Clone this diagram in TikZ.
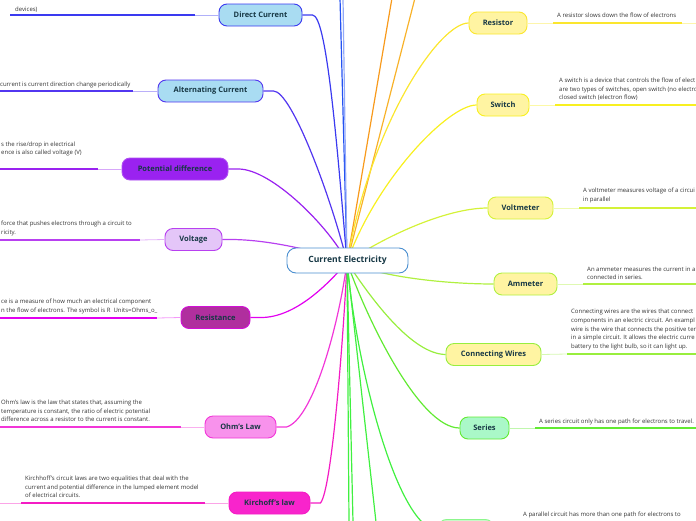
\documentclass[tikz,border=0pt]{standalone}
\usepackage{fontspec}
\setmainfont{Open Sans}
\usetikzlibrary{positioning}

\definecolor{cebord}{HTML}{4A8FD0}
\definecolor{labeltext}{HTML}{173845}
\definecolor{notetext}{HTML}{333333}
\definecolor{dcblue}{HTML}{3A3AF0}
\definecolor{acblue}{HTML}{5236F0}
\definecolor{lightblue}{HTML}{A9DCF2}
\definecolor{pdpurple}{HTML}{9A22F0}
\definecolor{vopurple}{HTML}{B840F0}
\definecolor{volav}{HTML}{E4C6F8}
\definecolor{remag}{HTML}{E200F0}
\definecolor{refill}{HTML}{B02F9E}
\definecolor{ohpink}{HTML}{F236D8}
\definecolor{ohfill}{HTML}{F892EC}
\definecolor{kipink}{HTML}{F41CC4}
\definecolor{kifill}{HTML}{F824CC}
\definecolor{rsyellow}{HTML}{FBE62E}
\definecolor{swyellow}{HTML}{F8F020}
\definecolor{paleyellow}{HTML}{FFF4A2}
\definecolor{vmlime}{HTML}{D4F238}
\definecolor{amlime}{HTML}{B0F040}
\definecolor{cwgreen}{HTML}{98EE3E}
\definecolor{segreen}{HTML}{62EA32}
\definecolor{mint}{HTML}{AAF8C8}
\definecolor{pagreen}{HTML}{40F040}
\definecolor{palegreen}{HTML}{C8FAC8}
\definecolor{topblue}{HTML}{2452F2}
\definecolor{orangeA}{HTML}{F89A1C}
\definecolor{orangeB}{HTML}{F8B22A}

\begin{document}
\begin{tikzpicture}[x=1pt,y=-1pt,
    topic/.style={draw,rounded corners=8pt,minimum height=22pt,inner sep=2pt,
        line width=0.9pt,text=labeltext,font=\fontsize{7.5}{9}\selectfont\bfseries},
    note/.style={anchor=south west,align=left,inner sep=0pt,text=notetext,
        font=\fontsize{6}{8.6}\selectfont},
    link/.style={line width=1.2pt},
    bar/.style={line width=1.6pt},
    stub/.style={line width=0.8pt}]
  \useasboundingbox (0,0) rectangle (696,520);
  \clip (0,0) rectangle (696,520);

  % hub behind the central topic
  \coordinate (hub) at (347,262);

  % topics on the left
  \node [topic,fill=lightblue,draw=dcblue,minimum width=83pt] (dc) at (260.5,15) {Direct Current};
  \node [topic,fill=lightblue,draw=acblue,minimum width=105pt] (ac) at (210.5,91) {Alternating Current};
  \node [topic,fill=pdpurple,draw=pdpurple!80!white,minimum width=106pt] (pd) at (175,169) {Potential difference};
  \node [topic,fill=volav,draw=vopurple,minimum width=57pt] (vo) at (193.5,239.5) {Voltage};
  \node [topic,fill=refill,draw=remag!70!refill,minimum width=69pt] (re) at (215.5,317.5) {Resistance};
  \node [topic,fill=ohfill,draw=ohpink,minimum width=71pt] (oh) at (240.5,427) {Ohm's Law};
  \node [topic,fill=kifill,draw=kipink,minimum width=81pt] (ki) at (269.5,503) {Kirchoff's law};

  % topics on the right
  \node [topic,fill=paleyellow,draw=rsyellow,minimum width=58pt] (rs) at (498,23) {Resistor};
  \node [topic,fill=paleyellow,draw=swyellow,minimum width=52pt] (sw) at (503,105) {Switch};
  \node [topic,fill=paleyellow,draw=vmlime,minimum width=65pt] (vm) at (520.5,208) {Voltmeter};
  \node [topic,fill=paleyellow,draw=amlime,minimum width=63pt] (am) at (525.5,284) {Ammeter};
  \node [topic,fill=paleyellow,draw=cwgreen,minimum width=95pt] (cw) at (493.5,354.5) {Connecting Wires};
  \node [topic,fill=mint,draw=segreen,minimum width=49pt] (se) at (484.5,428) {Series};
  \node [topic,fill=palegreen,draw=pagreen!60!white,minimum width=55pt] (pa) at (466,530.5) {};

  % ends of branches that run off the page
  \coordinate (upA) at (340,-2);
  \coordinate (upB) at (343,-2);
  \coordinate (upC) at (392,-2);
  \coordinate (upD) at (415,-2);
  \coordinate (downA) at (349,522);
  \coordinate (downB) at (353,522);
  \coordinate (downC) at (376,522);

  % connectors
  \draw [link,dcblue] (dc.east) -- ++(10,0) .. controls (326,15) and (336,130) .. (hub);
  \draw [link,acblue] (ac.east) -- ++(10,0) .. controls (292,91) and (332,200) .. (hub);
  \draw [link,pdpurple] (pd.east) -- ++(10,0) .. controls (272,169) and (330,228) .. (hub);
  \draw [link,vopurple] (vo.east) -- ++(10,0) .. controls (272,240) and (320,252) .. (hub);
  \draw [link,remag] (re.east) -- ++(10,0) .. controls (296,318) and (330,282) .. (hub);
  \draw [link,ohpink] (oh.east) -- ++(10,0) .. controls (312,420) and (338,330) .. (hub);
  \draw [link,kipink] (ki.east) -- ++(10,0) .. controls (332,490) and (344,330) .. (hub);
  \draw [link,topblue] (hub) -- (upA);
  \draw [link,topblue!50!white] (hub) -- (upB);
  \draw [link,orangeA] (hub) -- (upC);
  \draw [link,orangeB] (hub) -- (upD);
  \draw [link,rsyellow] (hub) .. controls (372,120) and (440,23) .. (rs.west);
  \draw [link,swyellow] (hub) .. controls (376,180) and (448,105) .. (sw.west);
  \draw [link,vmlime] (hub) .. controls (392,232) and (450,208) .. (vm.west);
  \draw [link,amlime] (hub) .. controls (384,278) and (450,284) .. (am.west);
  \draw [link,cwgreen] (hub) .. controls (372,300) and (412,354) .. (cw.west);
  \draw [link,segreen] (hub) .. controls (368,322) and (420,428) .. (se.west);
  \draw [link,pagreen] (hub) .. controls (358,380) and (400,530) .. (pa.west);
  \draw [link,pagreen] (hub) -- (downA);
  \draw [link,pagreen] (hub) -- (downB);
  \draw [link,pagreen] (hub) -- (downC);

  % central topic
  \node [draw=cebord,fill=white,rounded corners=9pt,line width=0.9pt,minimum width=121pt,
      minimum height=25pt,text=labeltext,font=\fontsize{8.6}{10}\selectfont\bfseries] (ce) at (347.5,260.5) {Current Electricity};

  % notes and their bars, left side
  \node [note] (dcnote) at (15,12.5) {devices)};
  \draw [stub,dcblue!40!white] (195,15) -- (dc.west);
  \draw [bar,dcblue] (10,15) -- (195,15);

  \node [note] (acnote) at (0,88.5) {current is current direction change periodically};
  \draw [stub,acblue!40!white] (133,91) -- (ac.west);
  \draw [bar,acblue] (0,91) -- (133,91);

  \node [note] (pdnote) at (1,156.5) {s the rise/drop in electrical\\ence is also called voltage (V)};
  \draw [stub,pdpurple!40!white] (98,169) -- (pd.west);
  \draw [bar,pdpurple] (0,169) -- (98,169);

  \node [note] (vonote) at (1,236) {force that pushes electrons through a circuit to\\ricity.};
  \draw [stub,vopurple!40!white] (140,240) -- (vo.west);
  \draw [bar,vopurple] (0,240) -- (140,240);

  \node [note] (renote) at (1,314) {ce is a measure of how much an electrical component\\n the flow of electrons. The symbol is R\ \ Units=Ohms\_o\_};
  \draw [stub,remag!40!white] (157,318) -- (re.west);
  \draw [bar,remag] (0,318) -- (157,318);

  \node [note] (ohnote) at (1,422) {Ohm's law is the law that states that, assuming the\\temperature is constant, the ratio of electric potential\\difference across a resistor to the current is constant.};
  \draw [stub,ohpink!40!white] (181,427) -- (oh.west);
  \draw [bar,ohpink] (0,427) -- (181,427);

  \node [note] (kinote) at (25,498) {Kirchhoff's circuit laws are two equalities that deal with the\\current and potential difference in the lumped element model\\of electrical circuits.};
  \draw [stub,kipink!40!white] (0,503) -- (21,503);
  \draw [stub,kipink!40!white] (205,503) -- (ki.west);
  \draw [bar,kipink] (21,503) -- (205,503);

  % notes and their bars, right side
  \node [note] (rsnote) at (557,18) {A resistor slows down the flow of electrons};
  \draw [stub,rsyellow!40!white] (rs.east) -- (553,23);
  \draw [bar,rsyellow] (553,23) -- (682,23);
  \draw [stub,rsyellow!40!white] (682,23) -- (696,23);

  \node [note] (swnote) at (559,101) {A switch is a device that controls the flow of elect\\are two types of switches, open switch (no electro\\closed switch (electron flow)};
  \draw [stub,swyellow!40!white] (sw.east) -- (555,105);
  \draw [bar,swyellow] (555,105) -- (696,105);

  \node [note] (vmnote) at (583,203) {A voltmeter measures voltage of a circui\\in parallel};
  \draw [stub,vmlime!40!white] (vm.east) -- (579,208);
  \draw [bar,vmlime] (579,208) -- (696,208);

  \node [note] (amnote) at (587,280) {An ammeter measures the current in a\\connected in series.};
  \draw [stub,amlime!40!white] (am.east) -- (583,284);
  \draw [bar,amlime] (583,284) -- (696,284);

  \node [note] (cwnote) at (571,350) {Connecting wires are the wires that connect\\components in an electric circuit. An exampl\\wire is the wire that connects the positive ter\\in a simple circuit. It allows the electric curre\\battery to the light bulb, so it can light up.};
  \draw [stub,cwgreen!40!white] (cw.east) -- (567,354);
  \draw [bar,cwgreen] (567,354) -- (696,354);

  \node [note] (senote) at (539,425) {A series circuit only has one path for electrons to travel.};
  \draw [stub,segreen!40!white] (se.east) -- (535,428);
  \draw [bar,segreen] (535,428) -- (696,428);

  \node [note] (panote) at (523,518.5) {A parallel circuit has more than one path for electrons to};
\end{tikzpicture}
\end{document}
